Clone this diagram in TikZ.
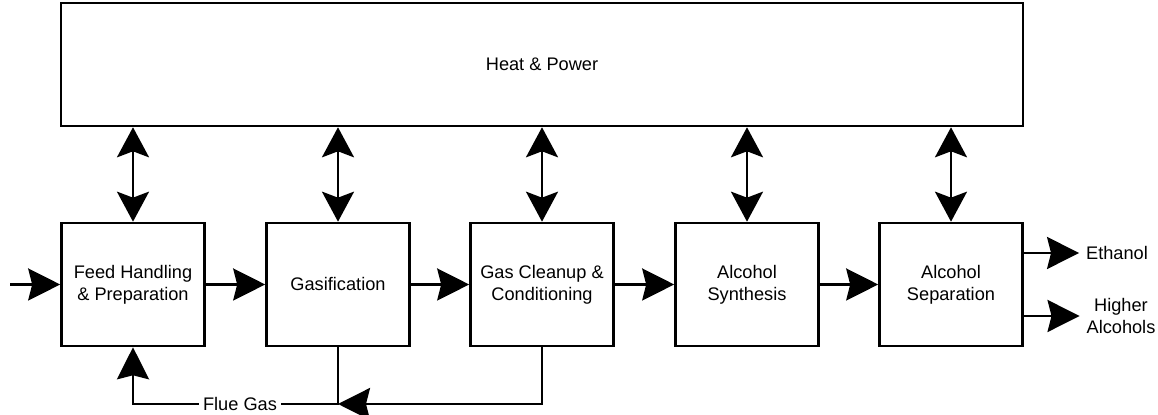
\documentclass[tikz,border=0pt]{standalone}
\usepackage{fontspec}
\setmainfont{Liberation Sans}
\usetikzlibrary{arrows.meta,calc}

\tikzset{
    unit/.style={draw, rectangle, line width=1.3pt, minimum width=71.5pt, minimum height=61.5pt,
        align=center, inner sep=0pt, font=\fontsize{9.1pt}{11pt}\selectfont},
    flow/.style={line width=1.3pt, -{Stealth[length=16pt,width=16pt,inset=2pt]}},
    both/.style={line width=1.3pt, {Stealth[length=15pt,width=16pt,inset=3pt]}-{Stealth[length=15pt,width=16pt,inset=3pt]}},
    lbl/.style={align=center, font=\fontsize{9.1pt}{11pt}\selectfont}
}

\begin{document}
\begin{tikzpicture}[x=0.5pt, y=-0.5pt]
    \useasboundingbox (0,0) rectangle (1158,415);

    % heat and power block
    \node[unit, minimum width=481pt] (hp) at (542,64.5) {Heat \& Power};

    % process units
    \node[unit] (feed) at (133,284.5) {Feed Handling\\\& Preparation};
    \node[unit] (gas) at (338,284.5) {Gasification};
    \node[unit] (clean) at (542,284.5) {Gas Cleanup \&\\Conditioning};
    \node[unit] (synth) at (747,284.5) {Alcohol\\Synthesis};
    \node[unit] (sep) at (951,284.5) {Alcohol\\Separation};

    % heat and power links
    \foreach \u in {feed,gas,clean,synth,sep}
        \draw[both] (hp.south -| \u.north) -- (\u.north);

    % main line
    \coordinate (in) at (10,284.5);
    \draw[flow] (in) -- (feed.west);
    \draw[flow] (feed) -- (gas);
    \draw[flow] (gas) -- (clean);
    \draw[flow] (clean) -- (synth);
    \draw[flow] (synth) -- (sep);

    % products
    \node[lbl] (eth) at (1117,253) {Ethanol};
    \node[lbl] (hig) at (1121,316) {Higher\\Alcohols};
    \draw[flow] (sep.east |- eth) -- (eth.west);
    \draw[flow] (sep.east |- hig) -- (hig.west);

    % flue gas recycle
    \coordinate (fg) at (338,404);
    \draw[flow] (gas.south) -- (fg) -| (feed.south);
    \draw[flow] (clean.south) |- (fg);
    \node[lbl, fill=white, inner sep=2pt] (flue) at (240,404) {Flue Gas};
\end{tikzpicture}
\end{document}
